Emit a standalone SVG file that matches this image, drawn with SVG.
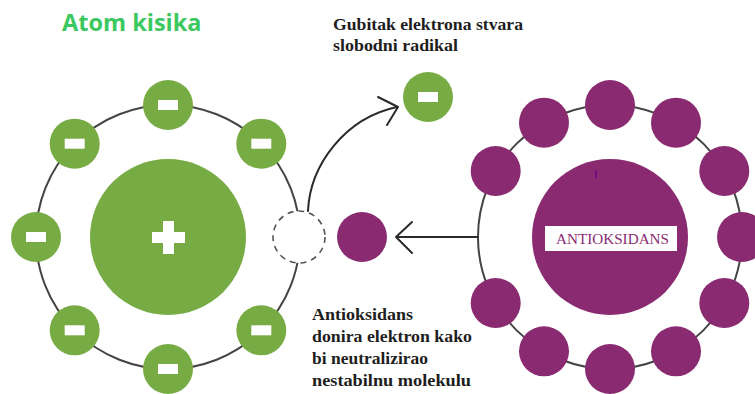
<svg xmlns="http://www.w3.org/2000/svg" width="755" height="394" viewBox="0 0 755 394">
<defs>
<style>
.orbit{fill:none;stroke:#444;stroke-width:2}
.eg{fill:#77ab43}
.ep{fill:#8a2b72}
.minus{fill:#fff}
.conn{fill:none;stroke:#2a2a2a;stroke-width:2;stroke-linecap:round;stroke-linejoin:round}
.lbl{font-family:"Liberation Serif","DejaVu Serif",serif;font-weight:bold;font-size:17px;fill:#1e1e1e}
</style>
<g id="em"><circle class="eg" r="25"/><rect class="minus" x="-10" y="-5" width="20" height="10"/></g>
<circle id="ap" class="ep" r="25"/>
</defs>
<rect width="755" height="394" fill="#fff"/>
<text id="title" x="62" y="31" font-family="'Open Sans',sans-serif" font-weight="bold" font-size="23.5" fill="#3cc860">Atom kisika</text>

<g id="oxygen">
<circle class="orbit" cx="168" cy="237" r="132"/>
<circle class="eg" cx="168" cy="237" r="78"/>
<rect class="minus" x="152" y="232" width="33" height="11"/>
<rect class="minus" x="163" y="221" width="11" height="33"/>
<use href="#em" x="168" y="105"/>
<use href="#em" x="74.7" y="143.7"/>
<use href="#em" x="36" y="237"/>
<use href="#em" x="74.7" y="330.3"/>
<use href="#em" x="168" y="369"/>
<use href="#em" x="261.3" y="330.3"/>
<use href="#em" x="261.3" y="143.7"/>
<circle id="hole" cx="299" cy="237" r="26" fill="#fff" stroke="#555" stroke-width="1.6" stroke-dasharray="6 5"/>
</g>

<g id="free-electron"><use href="#em" x="428" y="97"/></g>
<g id="donated-electron"><use href="#ap" x="362" y="237"/></g>

<g id="antioxidant">
<circle class="orbit" cx="610" cy="237" r="132"/>
<circle class="ep" cx="610" cy="237" r="78"/>
<rect x="595" y="170" width="2" height="8" fill="#7a0a80"/>
<rect x="545" y="226" width="132" height="25" fill="#fff"/>
<text x="556" y="244" textLength="113" lengthAdjust="spacingAndGlyphs" font-family="'Liberation Serif',serif" font-size="15" fill="#8a2b72">ANTIOKSIDANS</text>
<use href="#ap" x="742" y="237"/>
<use href="#ap" x="724.3" y="171"/>
<use href="#ap" x="676" y="122.7"/>
<use href="#ap" x="610" y="105"/>
<use href="#ap" x="544" y="122.7"/>
<use href="#ap" x="495.7" y="171"/>
<use href="#ap" x="495.7" y="303"/>
<use href="#ap" x="544" y="351.3"/>
<use href="#ap" x="610" y="369"/>
<use href="#ap" x="676" y="351.3"/>
<use href="#ap" x="724.3" y="303"/>
</g>

<g id="connectors">
<path class="conn" d="M308,211 C310,165 345,118 397,107"/>
<polyline class="conn" points="378,97 398,107 387,125"/>
<path class="conn" d="M478,237 H397"/>
<polyline class="conn" points="412,222 396,237 412,253"/>
</g>

<g id="labels">
<text class="lbl" x="333" y="30" textLength="190" lengthAdjust="spacingAndGlyphs">Gubitak elektrona stvara</text>
<text class="lbl" x="333" y="51" textLength="125" lengthAdjust="spacingAndGlyphs">slobodni radikal</text>
<text class="lbl" x="312" y="320" textLength="101" lengthAdjust="spacingAndGlyphs">Antioksidans</text>
<text class="lbl" x="312" y="342" textLength="160" lengthAdjust="spacingAndGlyphs">donira elektron kako</text>
<text class="lbl" x="312" y="364" textLength="116" lengthAdjust="spacingAndGlyphs">bi neutralizirao</text>
<text class="lbl" x="312" y="386" textLength="159" lengthAdjust="spacingAndGlyphs">nestabilnu molekulu</text>
</g>
</svg>
